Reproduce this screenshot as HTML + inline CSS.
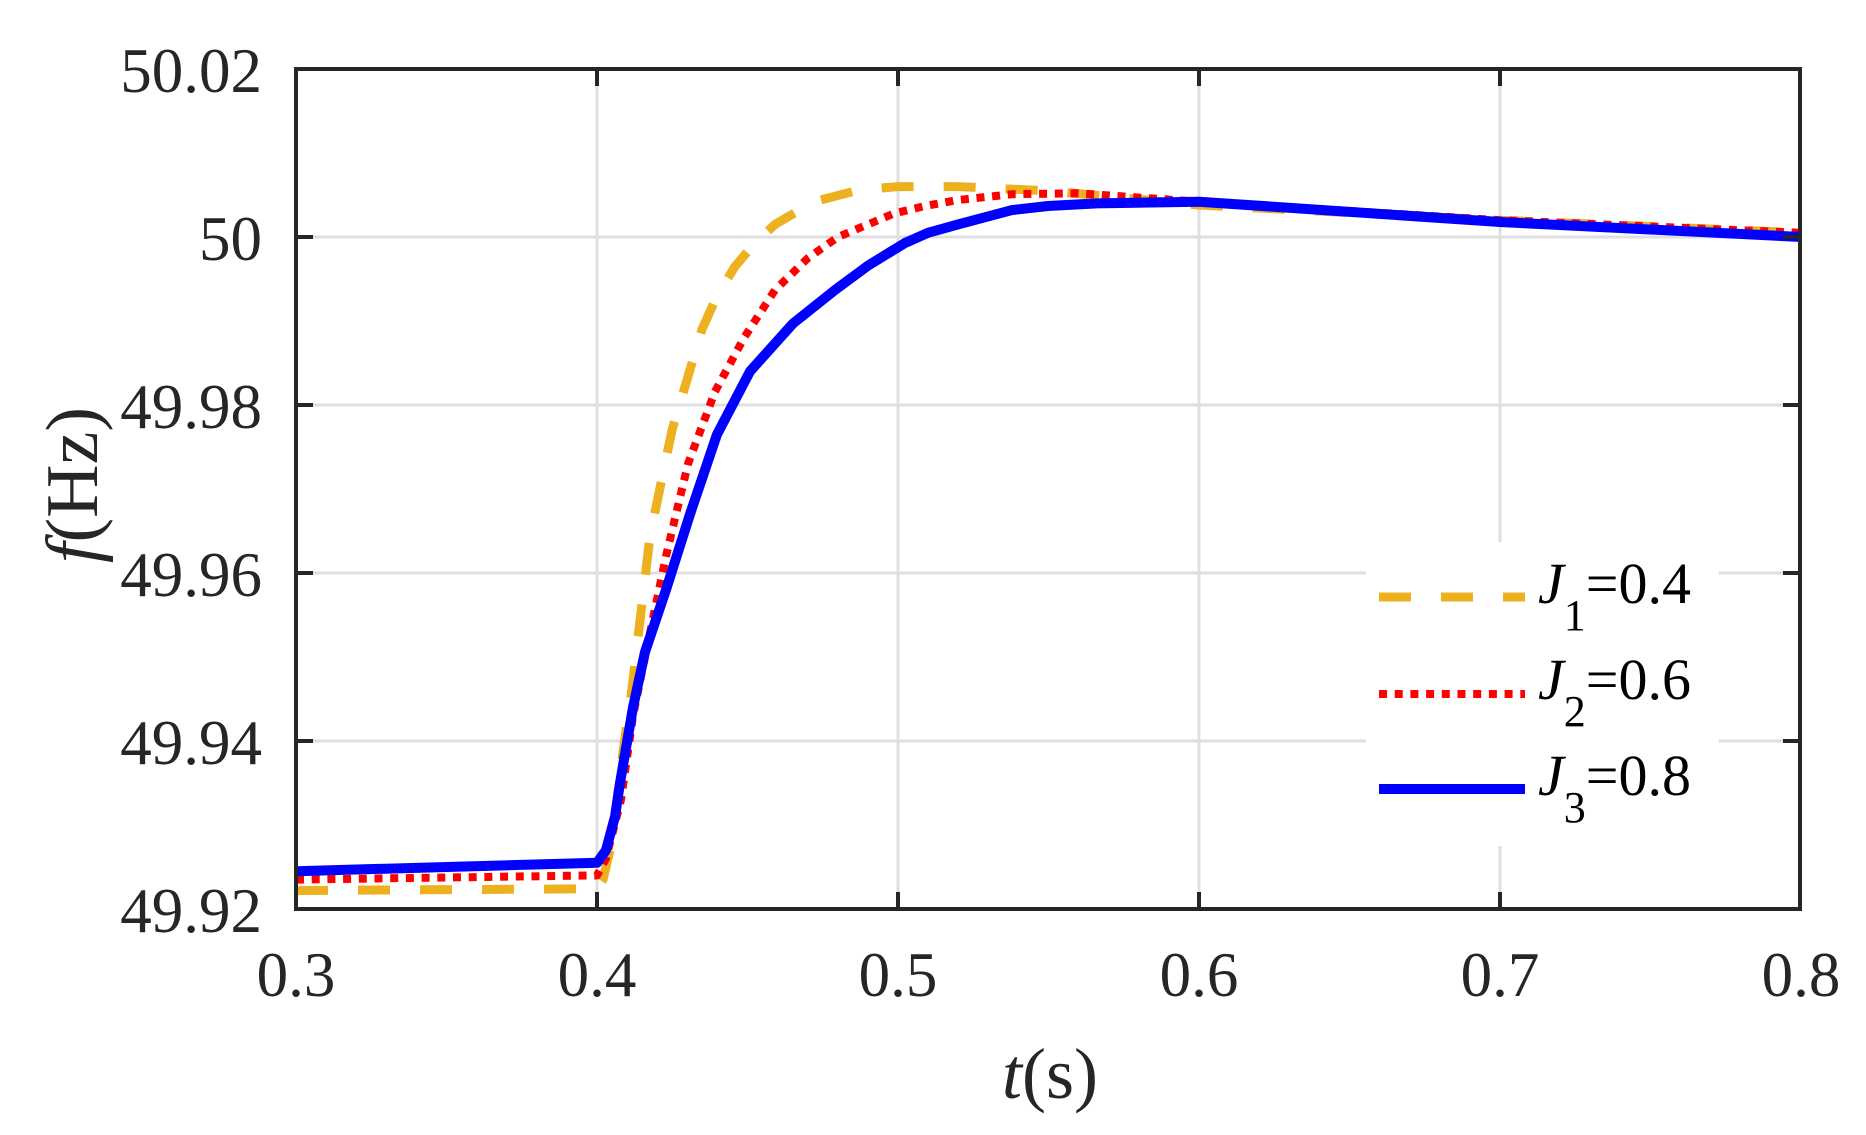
<!DOCTYPE html>
<html><head><meta charset="utf-8"><style>
html,body{margin:0;padding:0;background:#fff;}
svg{display:block;}
text{font-family:"Liberation Serif","Times New Roman",serif;fill:#262626;}
</style></head><body>
<svg width="1866" height="1135" viewBox="0 0 1866 1135" xmlns="http://www.w3.org/2000/svg">
<g stroke="#dfdfdf" stroke-width="3">
<line x1="597" y1="69" x2="597" y2="909"/>
<line x1="898" y1="69" x2="898" y2="909"/>
<line x1="1199" y1="69" x2="1199" y2="909"/>
<line x1="1500" y1="69" x2="1500" y2="909"/>
<line x1="296" y1="237" x2="1800" y2="237"/>
<line x1="296" y1="405" x2="1800" y2="405"/>
<line x1="296" y1="573" x2="1800" y2="573"/>
<line x1="296" y1="741" x2="1800" y2="741"/>
</g>
<rect x="1366" y="542" width="353" height="304" fill="#fff"/>
<g fill="none" stroke-linejoin="round">
<polyline stroke="#EDB120" stroke-width="9" stroke-dasharray="32 30" points="296,890.5 597,888.8 603,879.6 612,841.8 621,766.2 632,688.1 650,536 672,430.2 702,329.4 717,296 735,266.4 755,243 775,224.4 814,201.7 859,190 898,186.6 958,186.6 1048,190.8 1199,205 1500,220.2 1801,232.8"/>
<polyline stroke="#FF0000" stroke-width="8" stroke-dasharray="8 7.7" points="296,879.6 597,875.4 606,858.6 621,799.8 633,715.8 646,652 666,556.2 688,463.8 715,391.6 744,337.8 775,290 808,258 838,237 894,213.5 925,206 958,200 1012,194.2 1078,193.3 1199,201.7 1500,220.2 1801,232.8"/>
<polyline stroke="#0000FF" stroke-width="10" points="296,871.2 597,862.8 606,850.2 615,816.6 620,783 633,707.4 645,652 666,589.8 690,514.2 717,434.4 750,371.4 793,323.5 835,290 868,265.6 905,243 928,232.8 958,224.4 1012,210.1 1048,206 1097,203.4 1199,201.7 1500,222 1801,237"/>
</g>
<g stroke="#262626" stroke-width="4">
<rect x="296" y="69" width="1504" height="840" fill="none"/>
<line x1="597" y1="909" x2="597" y2="892"/><line x1="898" y1="909" x2="898" y2="892"/><line x1="1199" y1="909" x2="1199" y2="892"/><line x1="1500" y1="909" x2="1500" y2="892"/>
<line x1="597" y1="69" x2="597" y2="86"/><line x1="898" y1="69" x2="898" y2="86"/><line x1="1199" y1="69" x2="1199" y2="86"/><line x1="1500" y1="69" x2="1500" y2="86"/>
<line x1="296" y1="237" x2="313" y2="237"/><line x1="296" y1="405" x2="313" y2="405"/><line x1="296" y1="573" x2="313" y2="573"/><line x1="296" y1="741" x2="313" y2="741"/>
<line x1="1800" y1="237" x2="1783" y2="237"/><line x1="1800" y1="405" x2="1783" y2="405"/><line x1="1800" y1="573" x2="1783" y2="573"/><line x1="1800" y1="741" x2="1783" y2="741"/>
</g>
<g font-size="63" text-anchor="end">
<text x="262" y="92">50.02</text>
<text x="262" y="260">50</text>
<text x="262" y="428">49.98</text>
<text x="262" y="596">49.96</text>
<text x="262" y="764">49.94</text>
<text x="262" y="932">49.92</text>
</g>
<g font-size="63" text-anchor="middle">
<text x="296" y="996">0.3</text>
<text x="597" y="996">0.4</text>
<text x="898" y="996">0.5</text>
<text x="1199" y="996">0.6</text>
<text x="1500" y="996">0.7</text>
<text x="1801" y="996">0.8</text>
</g>
<text x="1050" y="1098" font-size="72" text-anchor="middle"><tspan font-style="italic">t</tspan>(s)</text>
<text transform="translate(97,485) rotate(-90)" font-size="74" text-anchor="middle"><tspan font-style="italic">f</tspan>(Hz)</text>
<line x1="1379" y1="597" x2="1525" y2="597" stroke="#EDB120" stroke-width="9" stroke-dasharray="32 30"/>
<line x1="1379" y1="694" x2="1525" y2="694" stroke="#FF0000" stroke-width="8" stroke-dasharray="8 7.7"/>
<line x1="1379" y1="789" x2="1525" y2="789" stroke="#0000FF" stroke-width="10"/>
<g font-size="58">
<text x="1538" y="603" style="fill:#000"><tspan font-style="italic">J</tspan><tspan font-size="44" dy="27">1</tspan><tspan dy="-27">=0.4</tspan></text>
<text x="1538" y="699" style="fill:#000"><tspan font-style="italic">J</tspan><tspan font-size="44" dy="27">2</tspan><tspan dy="-27">=0.6</tspan></text>
<text x="1538" y="795" style="fill:#000"><tspan font-style="italic">J</tspan><tspan font-size="44" dy="27">3</tspan><tspan dy="-27">=0.8</tspan></text>
</g>
</svg>
</body></html>
